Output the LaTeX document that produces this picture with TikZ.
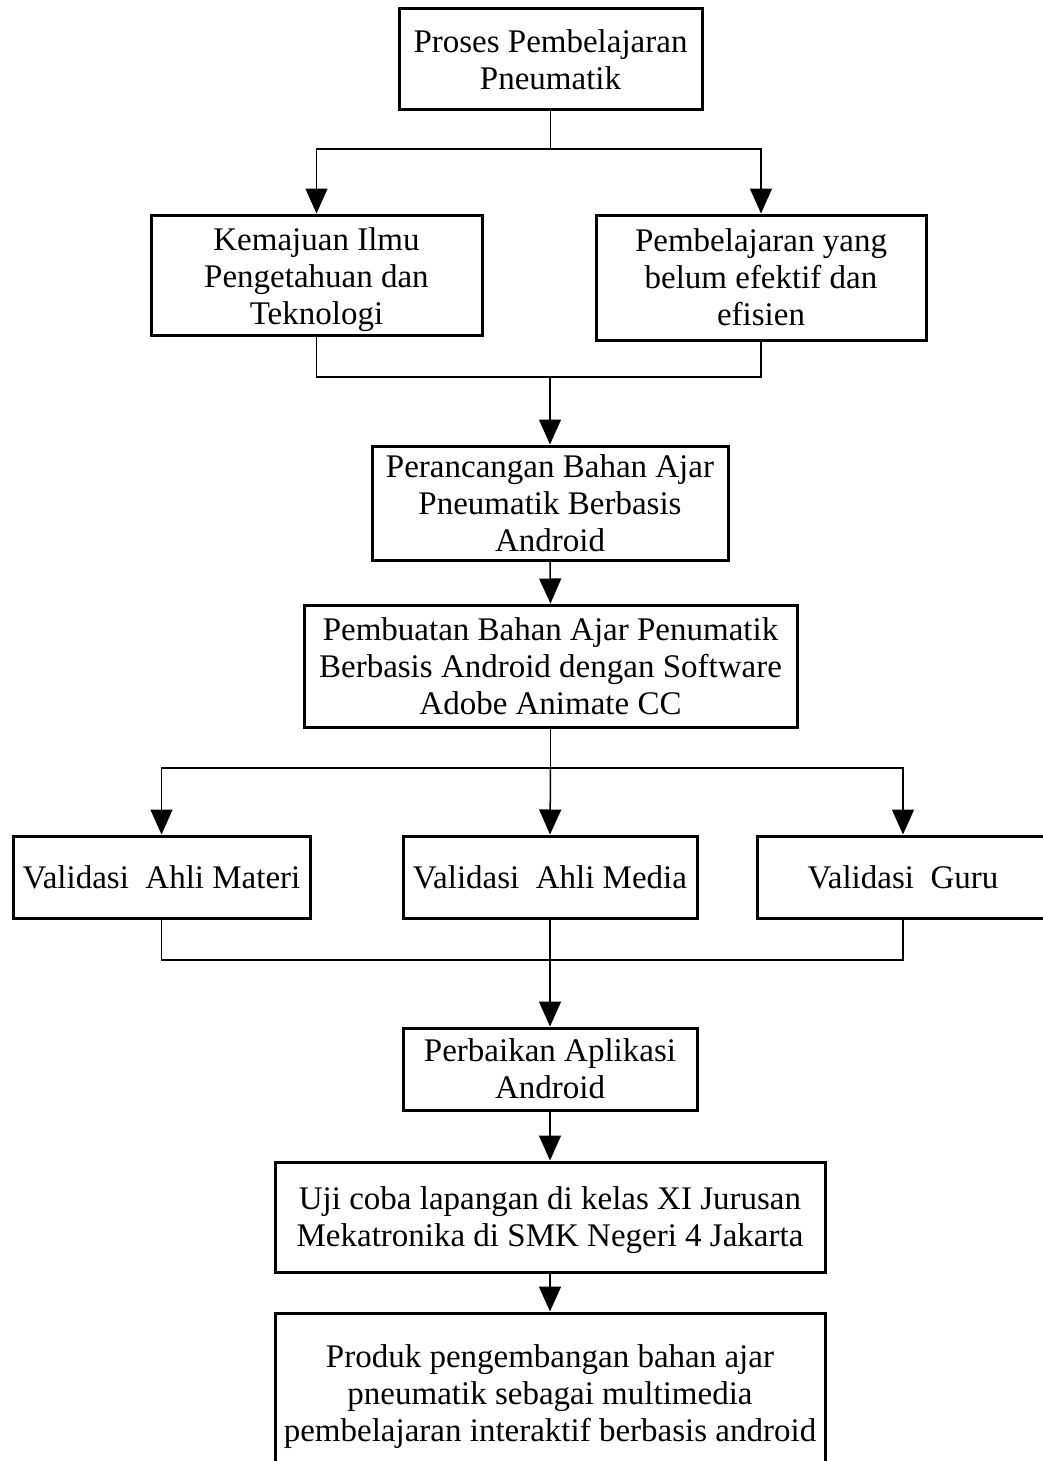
\documentclass[tikz,border=0pt]{standalone}
\usepackage{fontspec}
\setmainfont{Liberation Serif}
\usetikzlibrary{arrows.meta}
\begin{document}
\begin{tikzpicture}[x=1pt,y=-1pt,
  box/.style={draw,line width=3pt,rectangle,inner sep=0pt,align=center,
    font=\fontsize{33}{37}\selectfont},
  link/.style={line width=1.5pt},
  flow/.style={link,-{Triangle[length=25pt,width=22pt]}}]
\clip (0,0) rectangle (1043,1461);
\fill[white] (0,0) rectangle (1043,1461);

% boxes
\node[box,minimum width=303pt,minimum height=101pt] (proses) at (550.5,59.5) {Proses Pembelajaran\\Pneumatik};
\node[box,minimum width=331pt,minimum height=120pt] (ilmu) at (316.5,275) {\rule{0pt}{32pt}Kemajuan Ilmu\\Pengetahuan dan\\Teknologi};
\node[box,minimum width=330pt,minimum height=125pt] (efektif) at (761,277.5) {Pembelajaran yang\\belum efektif dan\\efisien};
\node[box,minimum width=356pt,minimum height=114pt] (rancang) at (550,503) {Perancangan Bahan Ajar\\Pneumatik Berbasis\\Android};
\node[box,minimum width=493pt,minimum height=122pt] (buat) at (550.5,666) {Pembuatan Bahan Ajar Penumatik\\Berbasis Android dengan Software\\Adobe Animate CC};
\node[box,minimum width=297pt,minimum height=82pt] (materi) at (161.5,877) {Validasi~ Ahli Materi};
\node[box,minimum width=294pt,minimum height=82pt] (media) at (550,877) {Validasi~ Ahli Media};
\node[box,minimum width=292pt,minimum height=82pt] (guru) at (903,877) {Validasi~ Guru};
\node[box,minimum width=294pt,minimum height=82pt] (perbaikan) at (550,1069) {Perbaikan Aplikasi\\Android};
\node[box,minimum width=550pt,minimum height=110pt] (uji) at (550,1217) {\rule{0pt}{30pt}Uji coba lapangan di kelas XI Jurusan\\Mekatronika di SMK Negeri 4 Jakarta};
\node[box,minimum width=550pt,minimum height=160pt] (produk) at (550,1393) {\rule{0pt}{30pt}Produk pengembangan bahan ajar\\pneumatik sebagai multimedia\\pembelajaran interaktif berbasis android};

% junction points
\coordinate (j1) at (550.5,149);
\coordinate (j2) at (550,377);
\coordinate (j3) at (550.5,768);
\coordinate (j4) at (550,960);

% connectors
\draw[link] (proses.south) -- (j1);
\draw[flow] (j1) -| (ilmu.north);
\draw[flow] (j1) -| (efektif.north);

\draw[link] (ilmu.south) |- (j2) -| (efektif.south);
\draw[flow] (j2) -- (rancang.north);

\draw[flow] (rancang.south) -- (buat.north);

\draw[link] (buat.south) -- (j3);
\draw[flow] (j3) -| (materi.north);
\draw[flow] (j3) -- (media.north);
\draw[flow] (j3) -| (guru.north);

\draw[link] (materi.south) |- (j4) -| (guru.south);
\draw[flow] (media.south) -- (perbaikan.north);

\draw[flow] (perbaikan.south) -- (uji.north);
\draw[flow] (uji.south) -- (produk.north);
\end{tikzpicture}
\end{document}
